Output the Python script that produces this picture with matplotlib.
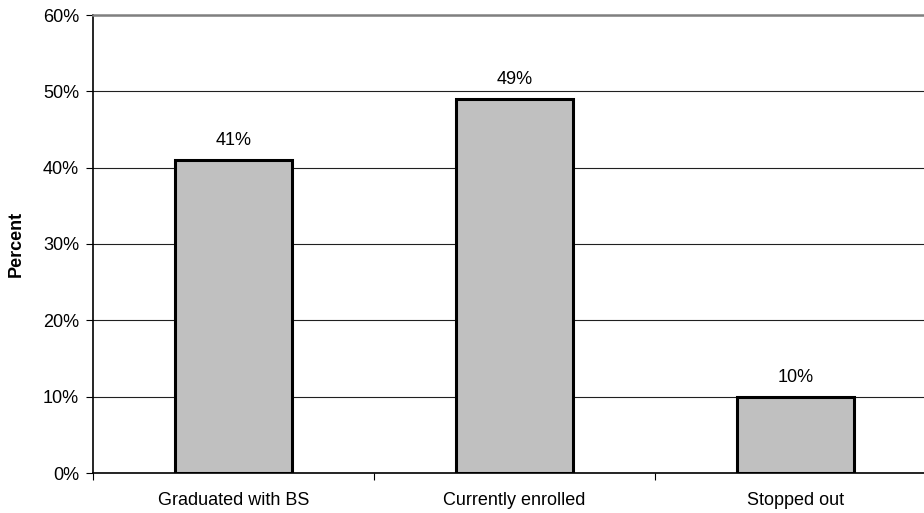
"""
Bar chart of student outcomes by status
"""
import matplotlib
matplotlib.use('Agg')
import matplotlib.pyplot as plt
from matplotlib.ticker import FixedLocator, PercentFormatter

categories = ['Graduated with BS', 'Currently enrolled', 'Stopped out']
percents = [41, 49, 10]
y_ticks = [0, 10, 20, 30, 40, 50, 60]

plt.rcParams['font.family'] = ['Liberation Sans', 'DejaVu Sans']

fig = plt.figure(figsize=(9.24, 5.13), dpi=100)
# plot area runs past the right edge of the figure
ax = fig.add_axes([93 / 924, 40 / 513, 843 / 924, 458 / 513])

x = [i + 0.5 for i in range(len(categories))]
ax.bar(x, percents, width=0.416, color='#c0c0c0', edgecolor='black',
       linewidth=2.2, zorder=3)

for xi, p in zip(x, percents):
    ax.text(xi, p + 1.4, f'{p}%', ha='center', va='bottom', fontsize=13)

ax.set_xlim(0, 3)
ax.set_ylim(0, 60)
ax.set_yticks(y_ticks)
ax.yaxis.set_major_formatter(PercentFormatter(decimals=0))
ax.grid(axis='y', color='#202020', linewidth=0.8, zorder=1)

# category labels centred under the bars, tick marks between categories
ax.set_xticks(x)
ax.set_xticklabels(categories)
ax.xaxis.set_minor_locator(FixedLocator([0, 1, 2, 3]))
ax.tick_params(axis='x', which='major', length=0, pad=14, labelsize=13)
ax.tick_params(axis='x', which='minor', length=5, width=0.8, direction='out')
ax.tick_params(axis='y', length=5, width=0.8, pad=5, labelsize=13)

ax.spines['right'].set_visible(False)
ax.spines['top'].set_color('#808080')
ax.spines['top'].set_linewidth(1.8)
ax.spines['left'].set_linewidth(1.2)
ax.spines['bottom'].set_linewidth(1.2)

ax.set_ylabel('Percent', fontsize=13, fontweight='bold')
ax.yaxis.set_label_coords(-68 / 843, 0.5)

fig.savefig('out.png', dpi=100)
